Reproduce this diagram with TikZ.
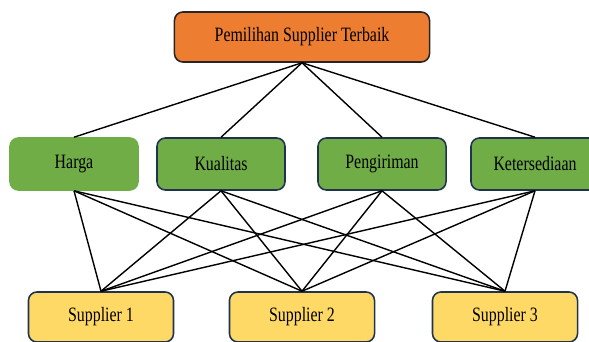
\documentclass[tikz,border=0pt]{standalone}
\usepackage{fontspec}
\setmainfont[FakeStretch=0.78]{Liberation Serif}
\definecolor{oranye}{HTML}{ED7D31}
\definecolor{hijau}{HTML}{70AD47}
\definecolor{kuning}{HTML}{FFD966}
\definecolor{garis}{HTML}{1F3350}
\tikzset{
  kotak/.style={rounded corners=6pt, line width=1.1pt, draw=garis,
    align=center, font=\fontsize{14.5}{16}\selectfont, inner sep=0pt},
  tujuan/.style={kotak, fill=oranye, draw=black!85, minimum width=6.375cm, minimum height=1.25cm},
  kriteria/.style={kotak, fill=hijau, minimum width=3.2cm, minimum height=1.3cm},
  alternatif/.style={kotak, fill=kuning, minimum width=3.625cm, minimum height=1.25cm},
  hubung/.style={line width=1pt, black}
}
\begin{document}
\begin{tikzpicture}[x=0.025cm, y=-0.025cm]
  % batas gambar
  \useasboundingbox (0,0) rectangle (589,341);

  % tujuan
  \node[tujuan] (tujuan) at (302,37) {Pemilihan Supplier Terbaik};

  % kriteria
  \node[kriteria, draw=hijau] (harga) at (74,164) {Harga};
  \node[kriteria] (kualitas) at (221,164) {Kualitas};
  \node[kriteria] (pengiriman) at (382,164) {Pengiriman};
  \node[kriteria] (ketersediaan) at (535,164) {Ketersediaan};

  % alternatif
  \node[alternatif] (sup1) at (101,317) {Supplier 1};
  \node[alternatif] (sup2) at (302,317) {Supplier 2};
  \node[alternatif] (sup3) at (505,317) {Supplier 3};

  % garis tujuan ke kriteria
  \foreach \k in {harga,kualitas,pengiriman,ketersediaan}
    \draw[hubung] (tujuan.south) -- (\k.north);

  % garis kriteria ke alternatif
  \foreach \k in {harga,kualitas,pengiriman,ketersediaan}
    \foreach \s in {sup1,sup2,sup3}
      \draw[hubung] (\k.south) -- (\s.north);
\end{tikzpicture}
\end{document}
